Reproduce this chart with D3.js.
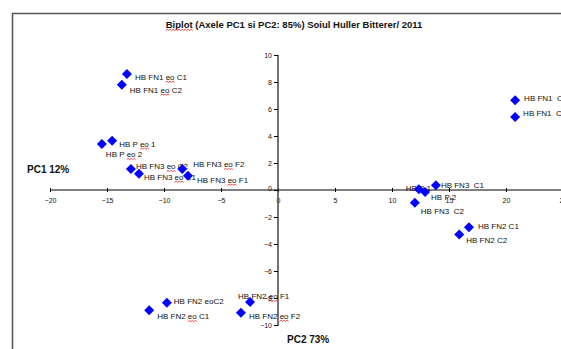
<!DOCTYPE html>
<html>
<head>
<meta charset="utf-8">
<script src="https://cdn.jsdelivr.net/npm/d3@7"></script>
<style>
	body { margin: 0; background: #fff; }
	svg { display: block; font-family: "Liberation Sans", Arial, sans-serif; }
</style>
</head>
<body>
<script>
// DATA
var names = [
	"HB FN1 eo C1", "HB FN1 eo C2", "HB P eo 1", "HB P eo 2",
	"HB FN3 eo C2", "HB FN3 eo C1", "HB FN3 eo F2", "HB FN3 eo F1",
	"HB FN1  C1", "HB FN1  C2", "HB P 1", "HB P 2",
	"HB FN3  C1", "HB FN3  C2", "HB FN2 C1", "HB FN2 C2",
	"HB FN2 eoC2", "HB FN2 eo C1", "HB FN2 eo F1", "HB FN2 eo F2"
]
// PC2 (horizontal axis)
var pc2 = [-13.25, -13.7, -14.55, -15.45, -12.9, -12.2, -8.4, -7.9,
	20.8, 20.8, 12.35, 12.9, 13.85, 12.0, 16.75, 15.9,
	-9.75, -11.3, -2.45, -3.25]
// PC1 (vertical axis)
var pc1 = [8.6, 7.8, 3.65, 3.4, 1.55, 1.2, 1.55, 1.05,
	6.65, 5.4, 0.05, -0.15, 0.35, -0.95, -2.75, -3.3,
	-8.35, -8.9, -8.3, -9.1]

var xTicks = [-20, -15, -10, -5, 0, 5, 10, 15, 20, 25]
var yTicks = [-10, -8, -6, -4, -2, 0, 2, 4, 6, 8, 10]

var title = "Biplot (Axele PC1 si PC2: 85%) Soiul Huller Bitterer/ 2011"
var xTitle = "PC2 73%"
var yTitle = "PC1 12%"

// label placement (pixel nudges from the marker, as in the picture)
var labelShift = [
	[8, 3], [8, 5], [7, 3], [4, 10],
	[5, -3], [5, 3], [11, -5], [9, 4],
	[9, -2], [8, -4], [-13, -1], [6, 5],
	[5, 0], [6, 8], [9, -1], [7, 5],
	[7, -2], [8, 6], [-12, -6], [8, 3]
]

var config = {
	width: 561,
	height: 349,
	x: { min: -20, max: 25, left: 50, right: 563 },
	y: { min: -10, max: 10, top: 55, bottom: 325 }
}

var svg = d3.select("body").append("svg")
	.attr("width", config.width)
	.attr("height", config.height)

var x = d3.scaleLinear().domain([config.x.min, config.x.max]).range([config.x.left, config.x.right])
var y = d3.scaleLinear().domain([config.y.min, config.y.max]).range([config.y.bottom, config.y.top])

// frame lines (top and left)
svg.append("path")
	.attr("d", "M12.5," + config.height + "V13.5H" + config.width)
	.attr("fill", "none")
	.attr("stroke", "#555")
	.attr("stroke-width", 1.5)

// title
svg.append("text")
	.attr("x", 294).attr("y", 28)
	.attr("text-anchor", "middle")
	.attr("font-size", 9.5).attr("font-weight", "bold")
	.attr("fill", "#111")
	.selectAll("tspan")
	.data([["Biplot", true], [title.slice(6), false]])
	.join("tspan")
	.attr("class", function(d) { return d[1] ? "sp" : null })
	.text(function(d) { return d[0] })

// x axis through y = 0
var xAxis = svg.append("g")
	.attr("transform", "translate(0," + y(0) + ")")
	.call(d3.axisBottom(x).tickValues(xTicks).tickSize(3).tickFormat(d3.format("d")))
xAxis.select(".domain").attr("d", "M" + config.x.left + ",0H" + config.width).attr("stroke", "#000")
xAxis.selectAll(".tick line").attr("y1", -2).attr("y2", 2)
xAxis.selectAll(".tick text")
	.attr("y", 8).attr("font-size", 7).attr("font-family", null).attr("fill", "#111")
xAxis.selectAll(".tick").filter(function(d) { return d === 0 }).select("text").attr("dx", 0)

// y axis through x = 0
var yAxis = svg.append("g")
	.attr("transform", "translate(" + x(0) + ",0)")
	.call(d3.axisLeft(y).tickValues(yTicks).tickSize(4).tickFormat(function(d) { return d3.format("d")(d) }))
yAxis.select(".domain").attr("d", "M0," + config.y.top + "V" + (config.y.bottom + 1)).attr("stroke", "#444").attr("stroke-width", 1.5)
yAxis.selectAll(".tick text")
	.attr("x", -6).attr("font-size", 7).attr("font-family", null).attr("fill", "#111")
yAxis.selectAll(".tick").filter(function(d) { return d === 0 }).select("text").attr("dy", "0.1em")

// axis titles
svg.append("text").attr("x", 27).attr("y", 173)
	.attr("font-size", 10).attr("font-weight", "bold").attr("fill", "#111").text(yTitle)
svg.append("text").attr("x", 287).attr("y", 343)
	.attr("font-size", 10).attr("font-weight", "bold").attr("fill", "#111").text(xTitle)

// point labels (drawn first, markers sit on top)
var rows = names.map(function(n, i) { return { name: n, px: pc2[i], py: pc1[i], shift: labelShift[i] } })

var labels = svg.append("g").selectAll("text")
	.data(rows)
	.join("text")
	.attr("x", function(d) { return x(d.px) + d.shift[0] })
	.attr("y", function(d) { return y(d.py) + d.shift[1] + 3 })
	.attr("font-size", 8)
	.attr("fill", "#111")
	.attr("xml:space", "preserve")

labels.each(function(d) {
	var t = d3.select(this)
	var parts = d.name.split(/( eo )/)
	parts.forEach(function(p) {
		if (p === " eo ") {
			t.append("tspan").text(" ")
			t.append("tspan").attr("class", "sp").text("eo")
			t.append("tspan").text(" ")
		} else {
			t.append("tspan").text(p)
		}
	})
})

// red spell-check squiggles under flagged words
var squig = svg.append("g")
svg.selectAll("tspan.sp").each(function() {
	var n = this.getNumberOfChars()
	if (!n) return
	var a = this.getExtentOfChar(0)
	var b = this.getExtentOfChar(n - 1)
	var x0 = a.x, x1 = b.x + b.width, yy = a.y + a.height + 0.5
	var d = "M" + x0 + "," + yy
	var up = true
	for (var xx = x0 + 1.5; xx <= x1 + 0.1; xx += 1.5) {
		d += "L" + xx + "," + (up ? yy - 1.2 : yy)
		up = !up
	}
	squig.append("path").attr("d", d).attr("fill", "none").attr("stroke", "#e02020").attr("stroke-width", 0.8)
})

// markers
var r = 5
svg.append("g").selectAll("path")
	.data(rows)
	.join("path")
	.attr("transform", function(d) { return "translate(" + x(d.px) + "," + y(d.py) + ")" })
	.attr("d", "M0," + (-r) + "L" + r + ",0L0," + r + "L" + (-r) + ",0Z")
	.attr("fill", "#0000ff")
</script>
</body>
</html>
